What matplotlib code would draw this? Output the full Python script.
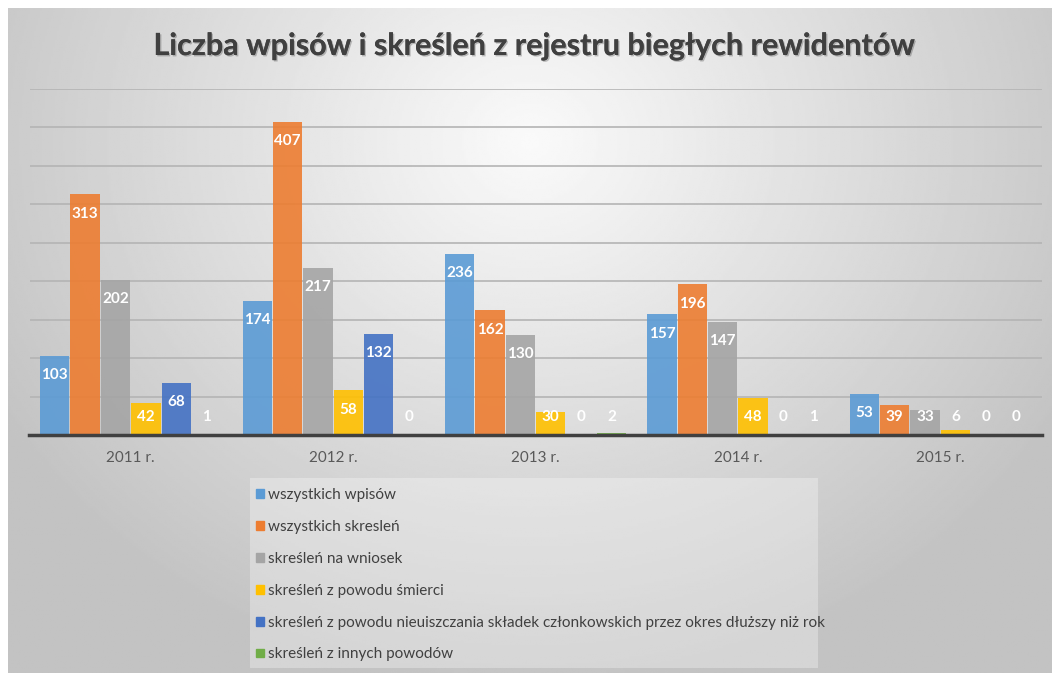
import matplotlib
matplotlib.use('Agg')
import matplotlib.pyplot as plt
import matplotlib.patheffects as pe
from matplotlib.patches import Patch, Rectangle
import numpy as np

plt.rcParams['font.family'] = ['Lato', 'DejaVu Sans']

# data
years = ['2011 r.', '2012 r.', '2013 r.', '2014 r.', '2015 r.']
series_names = ['wszystkich wpisów',
                'wszystkich skresleń',
                'skreśleń na wniosek',
                'skreśleń z powodu śmierci',
                'skreśleń z powodu nieuiszczania składek członkowskich przez okres dłuższy niż rok',
                'skreśleń z innych powodów']
wpisy = [103, 174, 236, 157, 53]
skreslenia = [313, 407, 162, 196, 39]
na_wniosek = [202, 217, 130, 147, 33]
smierc = [42, 58, 30, 48, 6]
skladki = [68, 132, 0, 0, 0]
inne = [1, 0, 2, 1, 0]
colors = ['#5B9BD5', '#ED7D31', '#A5A5A5', '#FFC000', '#4472C4', '#70AD47']

series = [wpisy, skreslenia, na_wniosek, smierc, skladki, inne]

W, H = 1052, 673
fig = plt.figure(figsize=(W / 100, H / 100), dpi=100)
fig.patch.set_facecolor('white')

# radial grey gradient background (chart area starts ~8px from left/top)
bg = fig.add_axes([8 / W, 0, 1 - 8 / W, 1 - 8 / H])
yy, xx = np.mgrid[0:1:300j, 0:1:500j]
r = np.sqrt(((xx - 0.5) / 0.75) ** 2 + ((yy - 0.2) / 1.05) ** 2)
shade = np.clip(250 - 70 * r, 195, 250) / 255.0
bg.imshow(shade, cmap='gray', vmin=0, vmax=1, aspect='auto',
          extent=[0, 1, 0, 1], origin='upper')
bg.set_xlim(0, 1)
bg.set_ylim(0, 1)
bg.axis('off')

ax = fig.add_axes([29.5 / W, 238 / H, 1012 / W, 346 / H])
ax.patch.set_alpha(0)

x = np.arange(len(years))
pitch = 0.15
for i, (vals, c) in enumerate(zip(series, colors)):
    pos = x + (i - 2.5) * pitch
    ax.bar(pos, vals, width=0.145, color=c, alpha=0.9, zorder=2)
    for px, v in zip(pos, vals):
        ax.text(px, max(v - 25, 23), str(v), ha='center', va='center',
                color='white', fontsize=11, fontweight='bold', zorder=3)

ax.set_xlim(-0.5, len(years) - 0.5)
ax.set_ylim(0, 450)
ax.set_yticks(np.arange(0, 451, 50))
ax.yaxis.grid(True, color='#b4b4b4', linewidth=1.2, zorder=1)
ax.set_axisbelow(True)
ax.tick_params(axis='y', left=False, labelleft=False)
ax.tick_params(axis='x', bottom=False, labelsize=11, labelcolor='#595959', pad=8)
ax.set_xticks(x)
ax.set_xticklabels(years)
for s in ['top', 'right', 'left']:
    ax.spines[s].set_visible(False)
ax.spines['bottom'].set_color('#404040')
ax.spines['bottom'].set_linewidth(2.5)
ax.spines['bottom'].set_zorder(4)

fig.text(534 / W, 1 - 46 / H, 'Liczba wpisów i skreśleń z rejestru biegłych rewidentów',
         ha='center', va='center', fontsize=22, fontweight='bold', color='#404040',
         path_effects=[pe.withSimplePatchShadow(offset=(1, -1), alpha=0.25), pe.Normal()])

# legend box
fig.patches.append(Rectangle((250 / W, 5 / H), 568 / W, 190 / H, transform=fig.transFigure,
                             facecolor='white', alpha=0.3, edgecolor='none', zorder=1))
handles = [Patch(color=c) for c in colors]
fig.legend(handles, series_names, loc='upper left', bbox_to_anchor=(250 / W, 1 - 482 / H),
           frameon=False, fontsize=11, labelcolor='#404040', handlelength=0.5,
           handleheight=0.5, handletextpad=0.3, labelspacing=1.17, borderaxespad=0)

fig.savefig('out.png', dpi=100)
